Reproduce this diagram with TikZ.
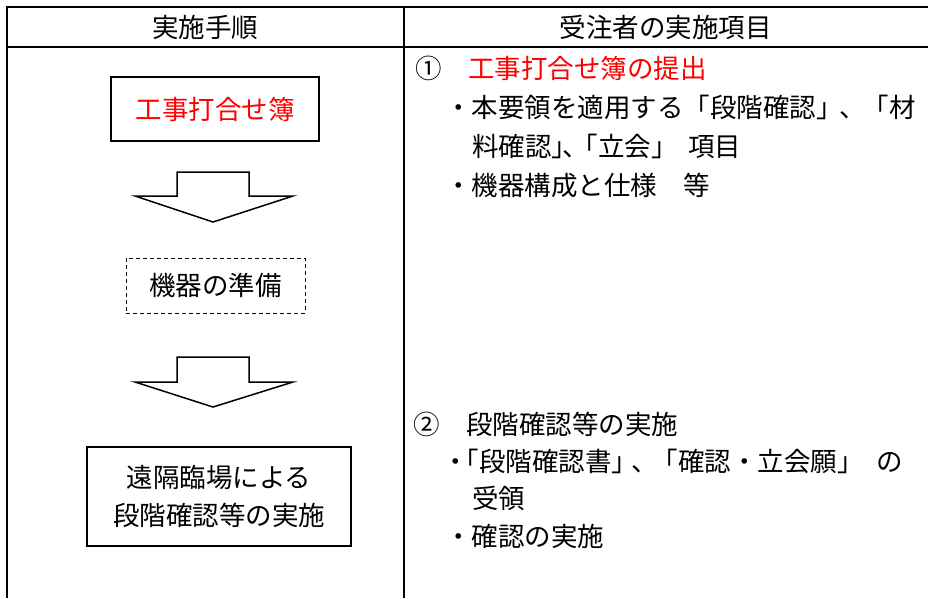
\documentclass[tikz,border=0pt]{standalone}
\usepackage{fontspec}
\newfontfamily\jp{Noto Sans CJK JP}
\tikzset{
  tbl/.style={line width=2pt},
  jpfont/.style={font=\jp\fontsize{26.5}{37.5}\selectfont},
  txt/.style={jpfont, inner sep=0pt, text height=23.3pt, text depth=3.2pt},
  rtxt/.style={txt, anchor=west},
  box/.style={draw, line width=1.2pt, inner sep=0pt},
  dbox/.style={draw, line width=1pt, dash pattern=on 4pt off 3pt, inner sep=0pt},
  blk/.style={draw, line width=1.5pt, line join=miter, fill=white},
}
\begin{document}
\begin{tikzpicture}[x=1pt,y=-1pt]
\useasboundingbox (0,0) rectangle (928,598);
% table
\coordinate (tl) at (6.5,6.5);
\draw[tbl] (5.5,6.5) -- (928,6.5);
\draw[tbl] (5.5,47) -- (928,47);
\draw[tbl] (6.5,5.5) -- (6.5,598);
\draw[tbl] (403.5,5.5) -- (403.5,598);
% headers
\node[txt] (h1) at (205,27) {実施手順};
\node[txt] (h2) at (665.5,27) {受注者の実施項目};
% left column
\node[box, txt, minimum width=208pt, minimum height=64pt, text=red] (b1) at (215,109) {工事打合せ簿};
\node[dbox, txt, minimum width=179pt, minimum height=55pt] (b2) at (215.5,285.5) {機器の準備};
\node[box, jpfont, align=center, minimum width=264pt, minimum height=99pt] (b3) at (219,496.5) {遠隔臨場による\\段階確認等の実施};
% block arrows
\draw[blk] (177,172) -- (249,172) -- (249,196) -- (293,196) -- (213,222) -- (135,196) -- (177,196) -- cycle;
\draw[blk] (177,357) -- (249,357) -- (249,382) -- (293,382) -- (213,407) -- (135,382) -- (177,382) -- cycle;
% right column
\node[rtxt] (r1) at (415,68) {①　\textcolor{red}{工事打合せ簿の提出}};
\node[rtxt] (r2) at (445,107) {・本要領を適用する「段階確認」\kern-.12em、\kern-.12em「材};
\node[rtxt] (r3) at (472,146) {料確認」\kern-.6em、\kern-.65em「立会」\kern.4em項目};
\node[rtxt] (r4) at (445,185) {・機器構成と仕様　等};
\node[rtxt] (s1) at (413,424) {②　段階確認等の実施};
\node[rtxt] (s2) at (442,461) {・\kern-.6em「段階確認書」\kern-.25em、\kern-.25em「確認・立会願」\kern.5em の};
\node[rtxt] (s3) at (472,498) {受領};
\node[rtxt] (s4) at (445,536) {・確認の実施};
\end{tikzpicture}
\end{document}
